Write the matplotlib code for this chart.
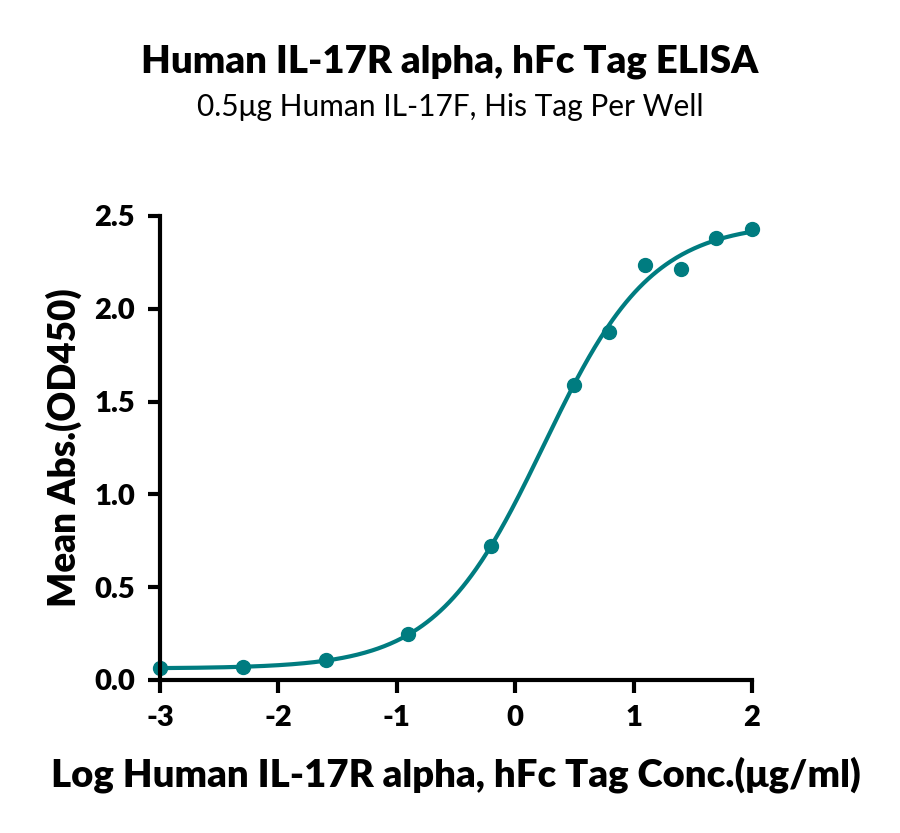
import numpy as np
import matplotlib
matplotlib.use("Agg")
import matplotlib.pyplot as plt

# log concentration (ug/ml) and mean absorbance
log_conc = [-3.0, -2.301, -1.602, -0.903, -0.204, 0.495, 0.796, 1.097, 1.398, 1.699, 2.0]
mean_abs = [0.063, 0.070, 0.105, 0.250, 0.720, 1.590, 1.875, 2.235, 2.215, 2.380, 2.430]

x_ticks = [-3, -2, -1, 0, 1, 2]
y_ticks = [0.0, 0.5, 1.0, 1.5, 2.0, 2.5]

teal = "#007C80"
plt.rcParams["font.family"] = ["Lato", "DejaVu Sans"]

x = np.array(log_conc)
y = np.array(mean_abs)


def logistic(xv, c, h):
    return 1.0 / (1.0 + 10 ** ((c - xv) * h))


# 4PL fit: grid over EC50 and hill slope, bottom/top solved linearly
best = None
for c in np.linspace(-0.5, 1.0, 151):
    for h in np.linspace(0.5, 2.0, 151):
        g = logistic(x, c, h)
        A = np.column_stack([1 - g, g])
        coef, *_ = np.linalg.lstsq(A, y, rcond=None)
        err = np.sum((A @ coef - y) ** 2)
        if best is None or err < best[0]:
            best = (err, c, h, coef)
_, c, h, (bottom, top) = best

xf = np.linspace(-3, 2, 400)
yf = bottom + (top - bottom) * logistic(xf, c, h)

fig = plt.figure(figsize=(9, 8.33), dpi=100)
ax = fig.add_axes([0.1778, 0.1837, 0.6578, 0.557])

ax.plot(xf, yf, color=teal, lw=3, clip_on=False)
ax.plot(x, y, "o", color=teal, ms=10, clip_on=False)

ax.set_xlim(-3, 2)
ax.set_ylim(0, 2.5)
ax.set_xticks(x_ticks)
ax.set_xticklabels([str(t) for t in x_ticks])
ax.set_yticks(y_ticks)
ax.set_yticklabels([f"{t:.1f}" for t in y_ticks])

for s in ["top", "right"]:
    ax.spines[s].set_visible(False)
for s in ["left", "bottom"]:
    ax.spines[s].set_linewidth(3)
ax.tick_params(width=3, length=9, labelsize=21, pad=9)
for lab in ax.get_xticklabels() + ax.get_yticklabels():
    lab.set_fontweight("heavy")

ax.set_xlabel("Log Human IL-17R alpha, hFc Tag Conc.(μg/ml)", fontsize=27.5,
              fontweight="heavy", labelpad=18)
ax.set_ylabel("Mean Abs.(OD450)", fontsize=26.5, fontweight="heavy", labelpad=9)

fig.text(0.5, 0.926, "Human IL-17R alpha, hFc Tag ELISA", ha="center",
         va="center", fontsize=27.5, fontweight="heavy")
fig.text(0.5, 0.871, "0.5μg Human IL-17F, His Tag Per Well", ha="center",
         va="center", fontsize=21.5)

fig.savefig("out.png", dpi=100)
